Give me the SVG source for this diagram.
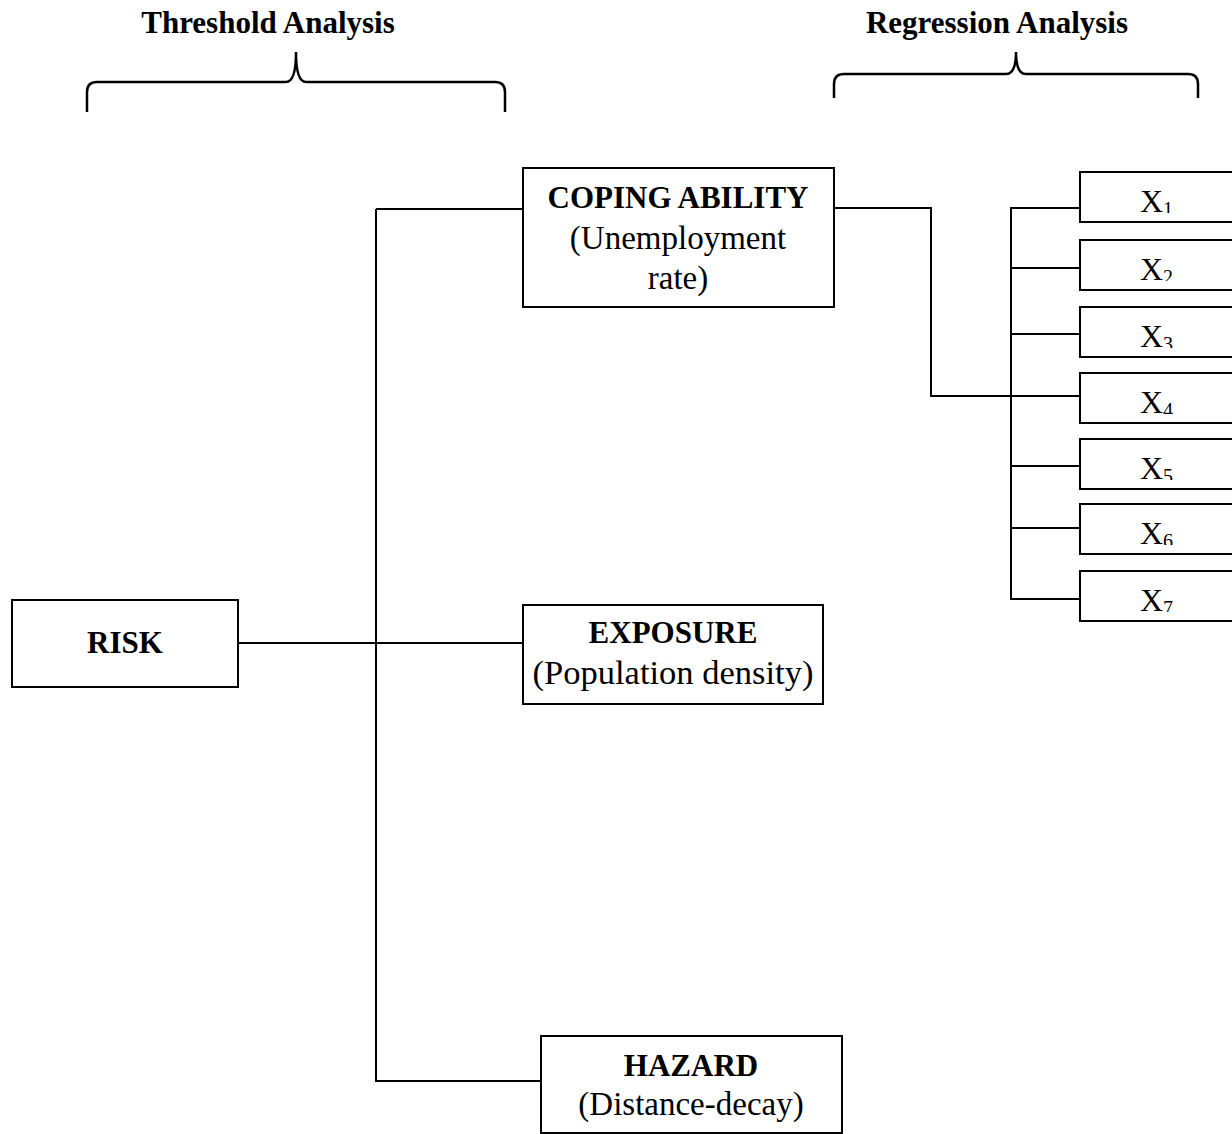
<svg xmlns="http://www.w3.org/2000/svg" width="1232" height="1134" viewBox="0 0 1232 1134">
<style>
.box{fill:#fff;stroke:#000;stroke-width:2}
.ln{fill:none;stroke:#000;stroke-width:2}
.br{fill:none;stroke:#000;stroke-width:2.5}
.b{font-family:"Liberation Serif","Times New Roman",serif;font-weight:bold;font-size:31px;text-anchor:middle;fill:#000}
.r{font-family:"Liberation Serif","Times New Roman",serif;font-size:33px;text-anchor:middle;fill:#000}
.x{font-family:"Liberation Serif","Times New Roman",serif;font-size:32px;fill:#000}
.s{font-size:20px}
</style>
<defs>
<clipPath id="c1"><rect x="1080" y="172" width="160" height="41"/></clipPath>
<clipPath id="c2"><rect x="1080" y="240" width="160" height="41"/></clipPath>
<clipPath id="c3"><rect x="1080" y="307" width="160" height="41"/></clipPath>
<clipPath id="c4"><rect x="1080" y="373" width="160" height="41"/></clipPath>
<clipPath id="c5"><rect x="1080" y="439" width="160" height="41"/></clipPath>
<clipPath id="c6"><rect x="1080" y="504" width="160" height="41"/></clipPath>
<clipPath id="c7"><rect x="1080" y="571" width="160" height="41"/></clipPath>
</defs>
<rect width="1232" height="1134" fill="#fff"/>
<g id="titles">
<text class="b" x="268" y="33">Threshold Analysis</text>
<text class="b" x="997" y="33">Regression Analysis</text>
<path class="br" d="M87,112 V92 Q87,82 97,82 H286 Q296,82 296,52 Q296,82 306,82 H495 Q505,82 505,92 V112"/>
<path class="br" d="M834,98 V84 Q834,74 844,74 H1006 Q1016,74 1016,52 Q1016,74 1026,74 H1188 Q1198,74 1198,84 V98"/>
</g>
<g id="connectors">
<path class="ln" d="M238,643 H523"/>
<path class="ln" d="M376,209 V1081 H540"/>
<path class="ln" d="M376,209 H523"/>
<path class="ln" d="M834,208 H931 V396 H1080"/>
<path class="ln" d="M1080,208 H1011 V599 H1080"/>
<path class="ln" d="M1011,268 H1080 M1011,334 H1080 M1011,466 H1080 M1011,528 H1080"/>
</g>
<g id="risk">
<rect class="box" x="12" y="600" width="226" height="87"/>
<text class="b" x="125" y="653">RISK</text>
</g>
<g id="coping">
<rect class="box" x="523" y="168" width="311" height="139"/>
<text class="b" x="678" y="208">COPING ABILITY</text>
<text class="r" x="678" y="249">(Unemployment</text>
<text class="r" x="678" y="289">rate)</text>
</g>
<g id="exposure">
<rect class="box" x="523" y="605" width="300" height="99"/>
<text class="b" x="673" y="643">EXPOSURE</text>
<text class="r" x="673" y="684" style="font-size:34.5px">(Population density)</text>
</g>
<g id="hazard">
<rect class="box" x="541" y="1036" width="301" height="97"/>
<text class="b" x="691" y="1076">HAZARD</text>
<text class="r" x="691" y="1115">(Distance-decay)</text>
</g>
<g id="x1"><rect class="box" x="1080" y="172" width="160" height="50"/><text class="x" x="1140" y="212" clip-path="url(#c1)">X<tspan class="s" dy="4">1</tspan></text></g>
<g id="x2"><rect class="box" x="1080" y="240" width="160" height="50"/><text class="x" x="1140" y="280" clip-path="url(#c2)">X<tspan class="s" dy="4">2</tspan></text></g>
<g id="x3"><rect class="box" x="1080" y="307" width="160" height="50"/><text class="x" x="1140" y="347" clip-path="url(#c3)">X<tspan class="s" dy="4">3</tspan></text></g>
<g id="x4"><rect class="box" x="1080" y="373" width="160" height="50"/><text class="x" x="1140" y="413" clip-path="url(#c4)">X<tspan class="s" dy="4">4</tspan></text></g>
<g id="x5"><rect class="box" x="1080" y="439" width="160" height="50"/><text class="x" x="1140" y="479" clip-path="url(#c5)">X<tspan class="s" dy="4">5</tspan></text></g>
<g id="x6"><rect class="box" x="1080" y="504" width="160" height="50"/><text class="x" x="1140" y="544" clip-path="url(#c6)">X<tspan class="s" dy="4">6</tspan></text></g>
<g id="x7"><rect class="box" x="1080" y="571" width="160" height="50"/><text class="x" x="1140" y="611" clip-path="url(#c7)">X<tspan class="s" dy="4">7</tspan></text></g>
</svg>
